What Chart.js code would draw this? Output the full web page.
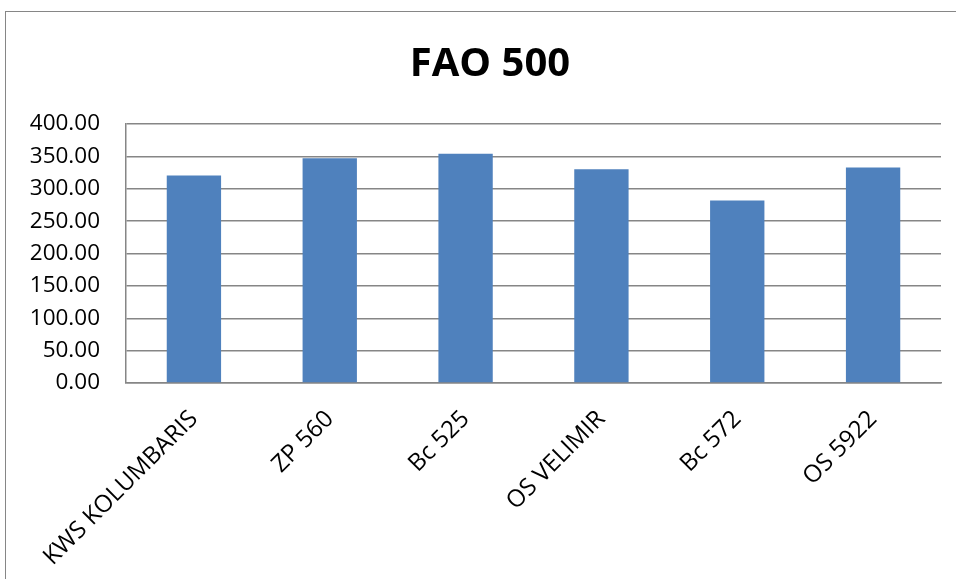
<!DOCTYPE html>
<html>
<head>
<meta charset="utf-8">
<script src="https://cdn.jsdelivr.net/npm/chart.js@4"></script>
<style>
  html, body { margin: 0; padding: 0; background: #fff; overflow: hidden; }
  #marco {
    position: absolute; left: 5px; top: 11px;
    width: 968px; height: 580px;
    border: 1px solid #868686;
  }
  #grafico { display: block; }
</style>
</head>
<body>
<div id="marco">
  <canvas id="grafico" width="968" height="580"></canvas>
</div>
<script>
// Datos del gráfico
const hibridos = ['KWS KOLUMBARIS', 'ZP 560', 'Bc 525', 'OS VELIMIR', 'Bc 572', 'OS 5922'];
const rendimiento = [320.5, 347, 354, 330, 282, 333];
const tituloTexto = 'FAO 500';

const fuente = "'Open Sans', 'Noto Sans', sans-serif";
const grisLinea = '#868686';

// El título se centra sobre todo el lienzo (no sólo sobre el área sin padding)
const tituloAncho = {
    id: 'tituloAncho',
    afterLayout(chart) {
        if (chart.titleBlock) {
            chart.titleBlock.left = 0;
            chart.titleBlock.right = chart.width;
        }
    }
};

const ctx = document.getElementById('grafico');
new Chart(ctx, {
    type: 'bar',
    data: {
        labels: hibridos,
        datasets: [{
            label: tituloTexto,
            data: rendimiento,
            backgroundColor: '#4F81BD',
            borderWidth: 0,
            categoryPercentage: 1,
            barPercentage: 0.4
        }]
    },
    plugins: [tituloAncho],
    options: {
        responsive: false,
        animation: false,
        layout: { padding: { left: 0, right: 33, top: 0, bottom: 0 } },
        plugins: {
            legend: { display: false },
            tooltip: { enabled: false },
            title: {
                display: true,
                text: tituloTexto,
                color: '#000',
                font: { family: fuente, size: 40, weight: 'bold', lineHeight: 1.2 },
                padding: { top: 29, bottom: 35 }
            }
        },
        scales: {
            x: {
                grid: { display: false, drawTicks: false },
                border: { display: true, color: grisLinea, width: 1.5 },
                ticks: {
                    color: '#000',
                    font: { family: fuente, size: 24 },
                    maxRotation: 45,
                    minRotation: 45,
                    padding: 22
                },
                afterFit: s => { s.height = 209; }
            },
            y: {
                min: 0,
                max: 400,
                grid: { color: grisLinea, lineWidth: 1.5, drawTicks: false },
                border: { display: true, color: grisLinea, width: 1.5 },
                ticks: {
                    stepSize: 50,
                    color: '#000',
                    font: { family: fuente, size: 22.5 },
                    padding: 26,
                    callback: v => Number(v).toFixed(2)
                },
                afterFit: s => { s.width = 120; }
            }
        }
    }
});
</script>
</body>
</html>
